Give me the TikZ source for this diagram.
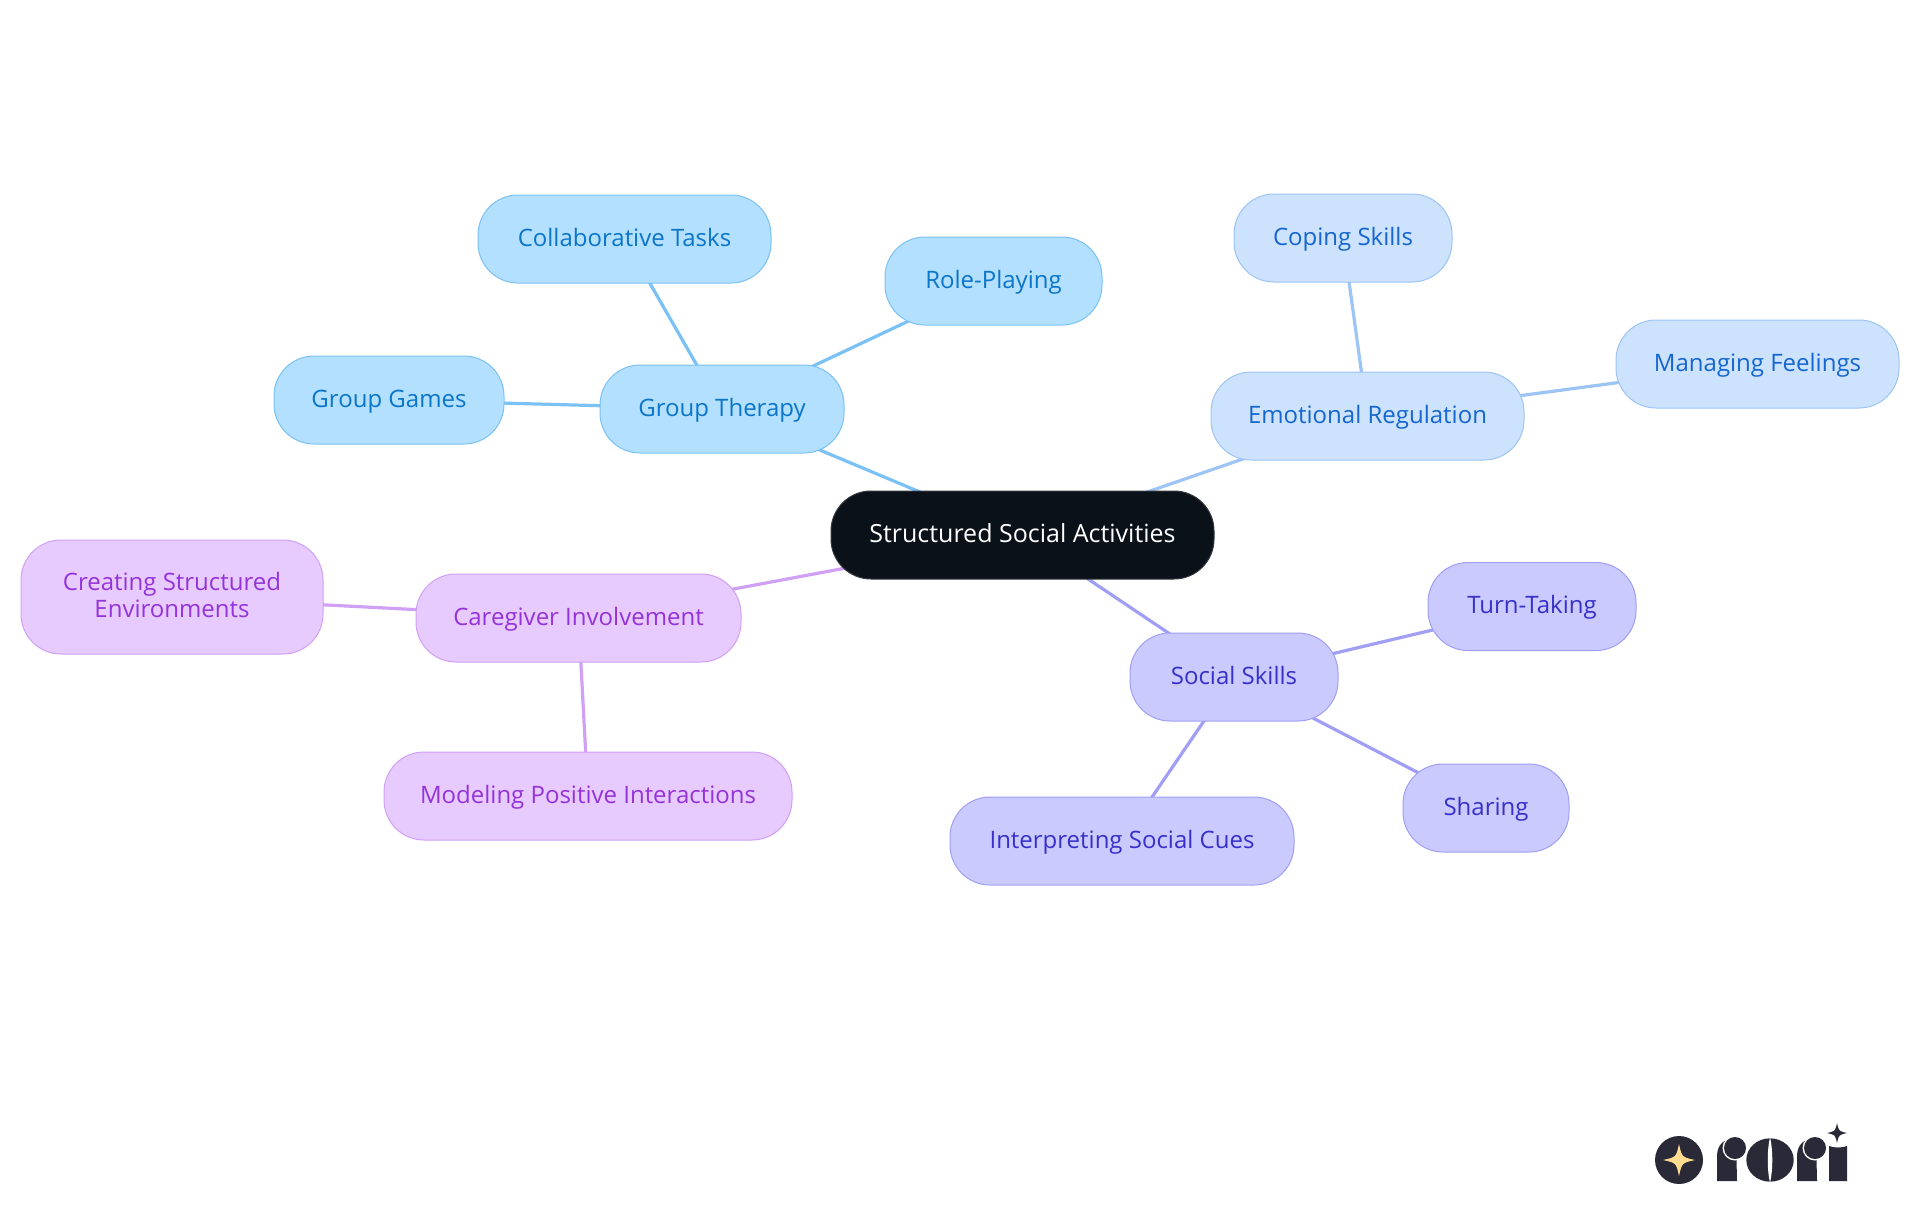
\documentclass[tikz,border=0pt]{standalone}
\usepackage{fontspec}
\usetikzlibrary{backgrounds}
\setmainfont{Open Sans}
\definecolor{rootfill}{HTML}{0B1119}
\definecolor{rootline}{HTML}{33383F}
\definecolor{afill}{HTML}{B3E0FF}\definecolor{aline}{HTML}{7AC1F5}\definecolor{atext}{HTML}{0B75C9}
\definecolor{bfill}{HTML}{CCE2FD}\definecolor{bline}{HTML}{9CC4F5}\definecolor{btext}{HTML}{1566CF}
\definecolor{cfill}{HTML}{CACAFE}\definecolor{cline}{HTML}{A09FF5}\definecolor{ctext}{HTML}{3730C9}
\definecolor{dfill}{HTML}{E8CBFE}\definecolor{dline}{HTML}{CFA0F5}\definecolor{dtext}{HTML}{9333D9}
\definecolor{logoink}{HTML}{2A2937}
\definecolor{logostar}{HTML}{FFDB8F}
\tikzset{
  pill/.style={rounded corners=20pt,line width=0.5pt,inner sep=0pt,minimum height=44pt,align=center,
    text height=9pt,text depth=1.7pt,font=\fontsize{12}{11}\selectfont},
  rootpill/.style={pill,fill=rootfill,draw=rootline,text=white,font=\fontsize{12.5}{11}\selectfont},
  apill/.style={pill,fill=afill,draw=aline,text=atext},
  bpill/.style={pill,fill=bfill,draw=bline,text=btext},
  cpill/.style={pill,fill=cfill,draw=cline,text=ctext},
  dpill/.style={pill,fill=dfill,draw=dline,text=dtext},
  alink/.style={draw=aline,line width=1.6pt},
  blink/.style={draw=bline,line width=1.6pt},
  clink/.style={draw=cline,line width=1.6pt},
  dlink/.style={draw=dline,line width=1.6pt},
  ink/.style={fill=logoink,draw=none}
}
\newcommand{\fourstar}[4]{% cx cy r colour
  \fill[#4] (#1,#2-#3) .. controls (#1+0.18*#3,#2-0.18*#3) .. (#1+#3,#2)
    .. controls (#1+0.18*#3,#2+0.18*#3) .. (#1,#2+#3)
    .. controls (#1-0.18*#3,#2+0.18*#3) .. (#1-#3,#2)
    .. controls (#1-0.18*#3,#2-0.18*#3) .. cycle;}
\begin{document}
\begin{tikzpicture}[x=0.5pt,y=-0.5pt]
\useasboundingbox (0,0) rectangle (1920,1215);
% nodes
\node[rootpill,minimum width=191.5pt] (root) at (1022.5,535) {Structured Social Activities};
\node[apill,minimum width=122pt] (gt) at (722,409) {Group Therapy};
\node[apill,minimum width=146.5pt] (collab) at (624.5,239) {Collaborative Tasks};
\node[apill,minimum width=108.5pt] (role) at (993.5,281) {Role-Playing};
\node[apill,minimum width=115pt] (games) at (389,400) {Group Games};
\node[bpill,minimum width=156.5pt] (emo) at (1367.5,416) {Emotional Regulation};
\node[bpill,minimum width=109pt] (coping) at (1343,238) {Coping Skills};
\node[bpill,minimum width=141.5pt] (feel) at (1757.5,364) {Managing Feelings};
\node[cpill,minimum width=104pt] (social) at (1234,677) {Social Skills};
\node[cpill,minimum width=104pt] (turn) at (1532,606.5) {Turn-Taking};
\node[cpill,minimum width=83pt] (share) at (1486,808) {Sharing};
\node[cpill,minimum width=172pt] (cues) at (1122,841) {Interpreting Social Cues};
\node[dpill,minimum width=162.5pt] (care) at (578.5,618) {Caregiver Involvement};
\node[dpill,minimum width=151pt,minimum height=57pt,text height=,text depth=2.4pt,font=\fontsize{12}{13.4}\selectfont] (create) at (172,597) {Creating Structured\\Environments};
\node[dpill,minimum width=204pt] (model) at (588,796) {Modeling Positive Interactions};
% connectors, behind the nodes
\begin{scope}[on background layer]
\path[alink] (gt.center) -- (root.center);
\path[alink] (gt.center) -- (collab.center);
\path[alink] (gt.center) -- (role.center);
\path[alink] (gt.center) -- (games.center);
\path[blink] (emo.center) -- (root.center);
\path[blink] (emo.center) -- (coping.center);
\path[blink] (emo.center) -- (feel.center);
\path[clink] (social.center) -- (root.center);
\path[clink] (social.center) -- (turn.center);
\path[clink] (social.center) -- (share.center);
\path[clink] (social.center) -- (cues.center);
\path[dlink] (care.center) -- (root.center);
\path[dlink] (care.center) -- (create.center);
\path[dlink] (care.center) -- (model.center);
\end{scope}
% logo
\fill[logoink] (1679,1160) circle[radius=24];
\fourstar{1679}{1160}{16}{logostar}
\fill[ink] (1717,1181) -- (1717,1156) .. controls (1717,1145) and (1724,1138) .. (1736,1138) -- (1737,1181) -- cycle;
\fill[white] (1735,1148) circle[radius=12.5];
\fill[ink] (1735,1148) circle[radius=11];
\fill[ink] (1770,1160) ellipse[x radius=23.7,y radius=21.7];
\fill[white] (1770,1137) .. controls (1767,1150) and (1767,1170) .. (1770,1183) .. controls (1773,1170) and (1773,1150) .. cycle;
\fill[ink] (1797,1181) -- (1797,1156) .. controls (1797,1145) and (1804,1138) .. (1816,1138) -- (1817,1181) -- cycle;
\fill[white] (1815,1148) circle[radius=12.5];
\fill[ink] (1815,1148) circle[radius=11];
\fill[ink] (1829,1181) -- (1829,1146) .. controls (1834,1148) and (1842,1148) .. (1847,1146) -- (1847,1181) -- cycle;
\fourstar{1837}{1133}{10}{logoink}
\end{tikzpicture}
\end{document}
